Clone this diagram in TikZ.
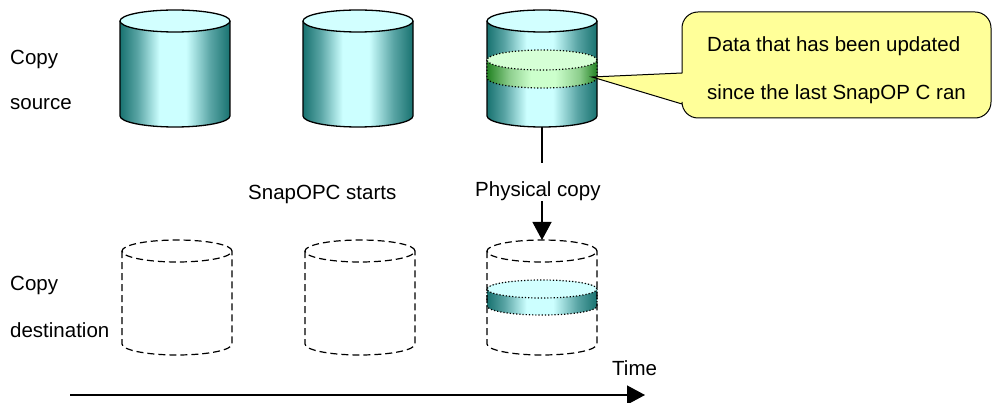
\documentclass[tikz,border=0pt]{standalone}
\usepackage{fontspec}
\setmainfont{Liberation Sans}
\usetikzlibrary{arrows.meta}
\definecolor{tealdark}{RGB}{24,114,112}
\definecolor{tealmid}{RGB}{90,165,165}
\definecolor{cyanlite}{RGB}{204,255,255}
\definecolor{cyantop}{RGB}{210,255,255}
\definecolor{greendark}{RGB}{34,130,34}
\definecolor{greenmid}{RGB}{140,205,140}
\definecolor{greenlite}{RGB}{204,255,204}
\definecolor{greentop}{RGB}{214,255,214}
\definecolor{calloutfill}{RGB}{255,255,153}
% TikZ maps the path's bounding box onto 25bp..75bp of the declared shading
\pgfdeclarehorizontalshading{cylshade}{100bp}{color(0bp)=(tealdark); color(25bp)=(tealdark); color(33bp)=(tealmid); color(43bp)=(cyanlite); color(55bp)=(cyanlite); color(66bp)=(tealmid); color(75bp)=(tealdark); color(100bp)=(tealdark)}
\pgfdeclarehorizontalshading{greenshade}{100bp}{color(0bp)=(greendark); color(25bp)=(greendark); color(35bp)=(greenmid); color(45bp)=(greenlite); color(56bp)=(greenlite); color(67bp)=(greenmid); color(75bp)=(greendark); color(100bp)=(greendark)}
\tikzset{
  lbl/.style={font=\fontsize{20.5}{24}\selectfont, inner sep=0pt, anchor=base west},
  cyledge/.style={draw=black, line width=1.3pt},
  dstedge/.style={draw=black, line width=1.2pt, dash pattern=on 7pt off 4pt},
  bandedge/.style={draw=black, line width=1.2pt, dotted},
  conn/.style={draw=black, line width=1.2pt},
  arr/.style={conn, -{Triangle[length=18pt,width=19pt]}},
  callout/.style={draw=black, line width=1pt, fill=calloutfill},
  srccyl/.pic={
    \path[shading=cylshade] (-55,0) -- (-55,-95) arc (180:360:55 and 11) -- (55,0) arc (0:180:55 and 11) -- cycle;
    \draw[cyledge] (-55,0) -- (-55,-95) arc (180:360:55 and 11) -- (55,0);
    \draw[cyledge, fill=cyantop] (0,0) ellipse (55 and 11);
    \coordinate (-bot) at (0,-106);
  },
  greenband/.pic={
    \path[shading=greenshade] (-55,-39) -- (-55,-57) arc (180:360:55 and 10) -- (55,-39) arc (0:180:55 and 10) -- cycle;
    \draw[bandedge] (-55,-39) -- (-55,-57) arc (180:360:55 and 10) -- (55,-39);
    \draw[bandedge, fill=greentop] (0,-39) ellipse (55 and 10);
  },
  cyanband/.pic={
    \path[shading=cylshade] (-55,-38) -- (-55,-55) arc (180:360:55 and 9) -- (55,-38) arc (0:180:55 and 9) -- cycle;
    \draw[bandedge] (-55,-38) -- (-55,-55) arc (180:360:55 and 9) -- (55,-38);
    \draw[bandedge, fill=cyantop] (0,-38) ellipse (55 and 9);
  },
  dstcyl/.pic={
    \draw[dstedge] (0,0) ellipse (55 and 11);
    \draw[dstedge] (-55,0) -- (-55,-93) arc (180:360:55 and 11) -- (55,0);
    \coordinate (-top) at (0,11);
  },
}
\begin{document}
\begin{tikzpicture}[x=1pt,y=1pt]
\useasboundingbox (0,0) rectangle (992,-403);
% source cylinders
\pic (s1) at (175,-21) {srccyl};
\pic (s2) at (358,-21) {srccyl};
\pic (s3) at (542,-21) {srccyl};
\pic (s3band) at (542,-21) {greenband};
% destination cylinders
\pic (d1) at (177,-251) {dstcyl};
\pic (d2) at (360,-251) {dstcyl};
\pic (d3band) at (542,-251) {cyanband};
\pic (d3) at (542,-251) {dstcyl};
% labels
\node[lbl] (srcA) at (10,-65) {Copy};
\node[lbl] (srcB) at (10,-110) {source};
\node[lbl] (dstA) at (10,-290) {Copy};
\node[lbl] (dstB) at (10,-337) {destination};
\node[lbl] (snap) at (248,-200) {SnapOPC starts};
\node[lbl] (pc) at (475,-197) {Physical copy};
\node[lbl] (time) at (612,-375) {Time};
% physical copy connector
\coordinate (pcgap) at (542,-163);
\draw[conn] (s3-bot) -- (pcgap);
\draw[arr] (pc.south -| s3-bot) -- (d3-top);
% time axis
\coordinate (tstart) at (70,-395);
\coordinate (tend) at (645,-395);
\draw[arr] (tstart) -- (tend);
% callout
\coordinate (tip) at (592,-77);
\draw[callout] (tip) -- (682,-73) [rounded corners=16pt] -- (682,-12) -- (991,-12) -- (991,-118) -- (682,-118) [sharp corners] -- (682,-104) -- cycle;
\node[lbl] (noteA) at (707,-52) {Data that has been updated};
\node[lbl] (noteB) at (707,-100) {since the last SnapOP C ran};
\end{tikzpicture}
\end{document}
